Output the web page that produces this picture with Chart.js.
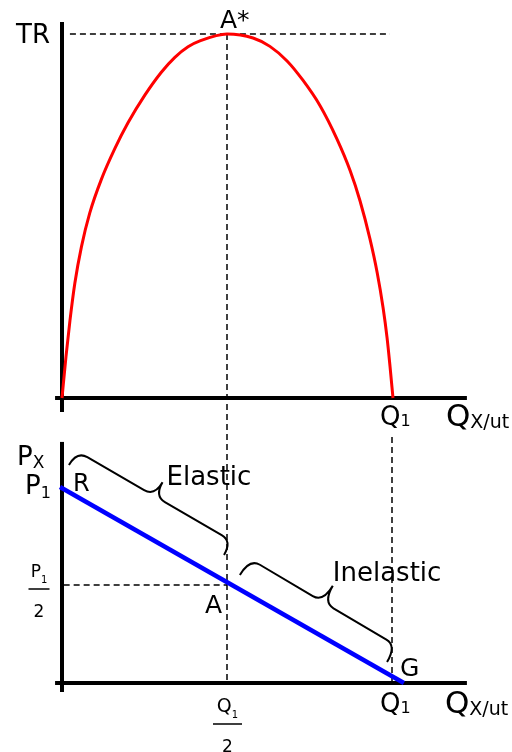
<!DOCTYPE html>
<html>
<head>
<meta charset="utf-8">
<script src="https://cdn.jsdelivr.net/npm/chart.js@4.4.0/dist/chart.umd.min.js"></script>
<style>
html, body { margin: 0; padding: 0; background: #fff; }
canvas { display: block; }
</style>
</head>
<body>
<canvas id="econChart" width="512" height="752"></canvas>
<script>
// total revenue curve (Q1 = 10, max TR = 10)
const trQty = [0, 0.12, 0.24, 0.39, 0.59, 0.84, 1.19, 1.60, 2.00, 2.51, 3.01, 3.42, 3.82, 4.18, 5.00,
  5.79, 6.30, 6.82, 7.30, 7.82, 8.33, 8.73, 9.03, 9.33, 9.55, 9.73, 9.85, 9.94, 10.03];
const trValues = [0, 1.13, 2.12, 3.16, 4.16, 5.08, 6.00, 6.85, 7.56, 8.32, 8.95, 9.36, 9.65, 9.81, 10.0,
  9.89, 9.66, 9.26, 8.73, 8.03, 7.12, 6.25, 5.42, 4.38, 3.45, 2.48, 1.66, 0.87, 0];

// linear demand curve in the bottom panel (P1 = 10)
const demandQty = [-0.06, 10.36];
const demandPrice = [10, 0];

// key levels
const q1 = 10, halfQ1 = 5;
const p1 = 10, halfP1 = 5;
const trMax = 10;

const black = "#000";
const font = "DejaVu Sans";

const pts = (xs, ys) => xs.map((x, i) => ({ x, y: ys[i] }));

function seg(data, yAxisID, color, width, dash) {
  return {
    data, yAxisID,
    showLine: true,
    borderColor: color,
    borderWidth: width,
    borderDash: dash || [],
    pointRadius: 0,
    fill: false,
    clip: false
  };
}

// curly braces next to the demand line (quantity, price), depth in px
const braces = [
  { from: [0.21, 11.12], to: [4.91, 6.53], h: 16, label: "Elastic", dx: 4, dy: 3 },
  { from: [5.39, 5.51], to: [9.85, 1.07], h: 19, label: "Inelastic", dx: 0, dy: -5 }
];

function drawBrace(ctx, a, b, h) {
  const dx = b.x - a.x, dy = b.y - a.y;
  const len = Math.hypot(dx, dy);
  const u = { x: dx / len, y: dy / len };
  const n = { x: u.y, y: -u.x };
  const q = 12;
  const m = { x: (a.x + b.x) / 2, y: (a.y + b.y) / 2 };
  const p = (o, s, t) => [o.x + u.x * s + n.x * t, o.y + u.y * s + n.y * t];
  ctx.beginPath();
  ctx.moveTo(a.x, a.y);
  ctx.quadraticCurveTo(...p(a, 0, h), ...p(a, q, h));
  ctx.lineTo(...p(m, -q, h));
  ctx.quadraticCurveTo(...p(m, 0, h), ...p(m, 0, 2 * h));
  ctx.quadraticCurveTo(...p(m, 0, h), ...p(m, q, h));
  ctx.lineTo(...p(b, -q, h));
  ctx.quadraticCurveTo(...p(b, 0, h), b.x, b.y);
  ctx.stroke();
  return { x: m.x + n.x * 2 * h, y: m.y + n.y * 2 * h };
}

function text(ctx, s, x, y, size, align) {
  ctx.font = size + "px '" + font + "'";
  ctx.textAlign = align || "left";
  ctx.fillText(s, x, y);
  return ctx.measureText(s).width;
}

function withSub(ctx, base, sub, x, y, size, subSize, subDy) {
  const w = text(ctx, base, x, y, size);
  text(ctx, sub, x + w, y + subDy, subSize);
}

function fraction(ctx, top, sub, cx, barY, barW, size) {
  ctx.font = size + "px '" + font + "'";
  const w1 = ctx.measureText(top).width;
  ctx.font = "10px '" + font + "'";
  const w2 = ctx.measureText(sub).width;
  const left = cx - (w1 + w2) / 2;
  withSub(ctx, top, sub, left, barY - 12, size, 10, 6);
  ctx.fillRect(cx - barW / 2, barY - 0.75, barW, 1.5);
  text(ctx, "2", cx, barY + 28, 17, "center");
}

const annotations = {
  id: "annotations",
  beforeDatasetsDraw(chart) {
    const { ctx, scales } = chart;
    // guide from the TR peak down through both panels to Q1/2
    const x = scales.x.getPixelForValue(halfQ1);
    ctx.save();
    ctx.strokeStyle = black;
    ctx.lineWidth = 1.5;
    ctx.setLineDash([6, 4]);
    ctx.beginPath();
    ctx.moveTo(x, scales.yTR.getPixelForValue(trMax));
    ctx.lineTo(x, scales.yP.getPixelForValue(0));
    ctx.stroke();
    ctx.restore();
  },
  afterDatasetsDraw(chart) {
    const { ctx, scales } = chart;
    const px = v => scales.x.getPixelForValue(v);
    const pt = v => scales.yTR.getPixelForValue(v);
    const pp = v => scales.yP.getPixelForValue(v);
    ctx.save();
    ctx.fillStyle = black;
    ctx.strokeStyle = black;
    ctx.textBaseline = "alphabetic";

    // top panel
    text(ctx, "TR", px(0) - 12, pt(trMax) + 9, 26, "right");
    text(ctx, "A*", px(halfQ1) - 7, pt(trMax) - 6, 25);
    withSub(ctx, "Q", "1", px(q1) - 12, pt(0) + 27, 26, 16, 1);
    withSub(ctx, "Q", "X/ut", px(12.27) - 21, pt(0) + 28, 31, 19, 2);

    // bottom panel
    withSub(ctx, "P", "X", px(0) - 45, pp(12.3) + 23, 26, 17, 3);
    withSub(ctx, "P", "1", px(0) - 37, pp(p1) + 7, 26, 16, 4);
    text(ctx, "R", px(0) + 11, pp(p1) + 4, 24);
    text(ctx, "A", px(halfQ1) - 22, pp(halfP1) + 28, 25);
    text(ctx, "G", px(demandQty[1]) - 4, pp(0) - 7, 25);
    withSub(ctx, "Q", "1", px(q1) - 12, pp(0) + 29, 26, 16, 1);
    withSub(ctx, "Q", "X/ut", px(12.27) - 22, pp(0) + 30, 31, 19, 2);
    fraction(ctx, "P", "1", px(0) - 23, pp(halfP1) + 4, 21, 17);
    fraction(ctx, "Q", "1", px(halfQ1) + 0.5, pp(0) + 41, 29, 19);

    ctx.lineWidth = 2;
    braces.forEach(b => {
      const cusp = drawBrace(ctx,
        { x: px(b.from[0]), y: pp(b.from[1]) },
        { x: px(b.to[0]), y: pp(b.to[1]) }, b.h);
      text(ctx, b.label, cusp.x + b.dx, cusp.y + b.dy, 26);
    });
    ctx.restore();
  }
};

const dash = [6, 4];

new Chart(document.getElementById("econChart"), {
  type: "scatter",
  data: {
    datasets: [
      // curves
      Object.assign(seg(pts(trQty, trValues), "yTR", "#ff0000", 3), { cubicInterpolationMode: "monotone" }),
      seg(pts(demandQty, demandPrice), "yP", "#0000ff", 4.5),
      // axes
      seg([{ x: 0, y: -0.385 }, { x: 0, y: 10.33 }], "yTR", black, 4),
      seg([{ x: -0.21, y: 0 }, { x: 12.27, y: 0 }], "yTR", black, 4),
      seg([{ x: 0, y: -0.46 }, { x: 0, y: 12.3 }], "yP", black, 4),
      seg([{ x: -0.21, y: 0 }, { x: 12.27, y: 0 }], "yP", black, 4),
      // dashed guides
      seg([{ x: 0.24, y: trMax }, { x: 9.94, y: trMax }], "yTR", black, 1.5, dash),
      seg([{ x: q1, y: 0 }, { x: q1, y: 12.76 }], "yP", black, 1.5, dash),
      seg([{ x: 0.05, y: halfP1 }, { x: halfQ1, y: halfP1 }], "yP", black, 1.5, dash)
    ]
  },
  options: {
    responsive: false,
    animation: false,
    layout: { padding: 0 },
    plugins: { legend: { display: false }, tooltip: { enabled: false } },
    events: [],
    scales: {
      x: { type: "linear", display: false, bounds: "data", min: -62 / 33, max: -62 / 33 + 512 / 33 },
      yTR: { type: "linear", display: false, bounds: "data", min: 34 / 36.4 + 10 - 752 / 36.4, max: 34 / 36.4 + 10 },
      yP: { type: "linear", display: false, bounds: "data", min: 10 + 487 / 19.6 - 752 / 19.6, max: 10 + 487 / 19.6 }
    }
  },
  plugins: [annotations]
});
</script>
</body>
</html>
